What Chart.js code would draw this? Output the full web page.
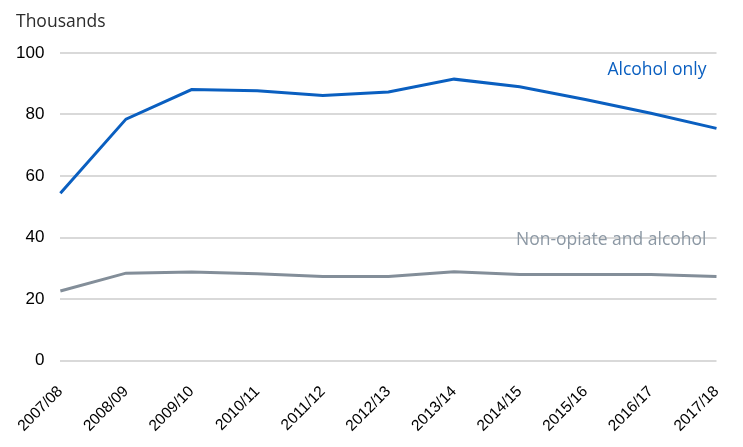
<!DOCTYPE html>
<html>
<head>
<meta charset="utf-8">
<script src="https://cdn.jsdelivr.net/npm/chart.js@4/dist/chart.umd.min.js"></script>
<style>
html,body{margin:0;padding:0;background:#fff;}
#wrap{width:743px;height:447px;position:relative;}
</style>
</head>
<body>
<div id="wrap"><canvas id="c" width="743" height="447"></canvas></div>
<script>
const categories = ["2007/08","2008/09","2009/10","2010/11","2011/12","2012/13","2013/14","2014/15","2015/16","2016/17","2017/18"];
const alcoholOnly = [54.4, 78.5, 88.1, 87.7, 86.2, 87.3, 91.5, 89.0, 84.9, 80.4, 75.5];
const nonOpiateAlcohol = [22.6, 28.4, 28.8, 28.2, 27.3, 27.3, 28.9, 28.0, 28.0, 28.0, 27.3];
const yTicks = [0, 20, 40, 60, 80, 100];
const unitLabel = "Thousands";
const seriesLabels = ["Alcohol only", "Non-opiate and alcohol"];

const BLUE = "#0a5fc0";
const GRAY = "#838e99";
const GRAY_TEXT = "#8c98a4";

const textPlugin = {
  id: 'texts',
  afterDraw(chart) {
    const ctx = chart.ctx;
    const x = chart.scales.x, y = chart.scales.y;
    ctx.save();
    ctx.font = '17.5px "Open Sans", "Noto Sans", sans-serif';
    ctx.fillStyle = '#2b2b2b';
    ctx.textAlign = 'left';
    ctx.textBaseline = 'alphabetic';
    ctx.fillText(unitLabel, 16, 27);
    const xr = x.getPixelForValue(categories.length - 1) - 10;
    ctx.textAlign = 'right';
    ctx.fillStyle = BLUE;
    ctx.fillText(seriesLabels[0], xr, y.getPixelForValue(92.8));
    ctx.fillStyle = GRAY_TEXT;
    ctx.fillText(seriesLabels[1], xr, y.getPixelForValue(37.6));
    ctx.restore();
  }
};

new Chart(document.getElementById('c'), {
  type: 'line',
  data: {
    labels: categories,
    datasets: [
      { label: seriesLabels[0], data: alcoholOnly, borderColor: BLUE, borderWidth: 3, pointRadius: 0, tension: 0, fill: false },
      { label: seriesLabels[1], data: nonOpiateAlcohol, borderColor: GRAY, borderWidth: 3, pointRadius: 0, tension: 0, fill: false }
    ]
  },
  options: {
    responsive: false,
    animation: false,
    layout: { padding: { top: 53, right: 26.5, bottom: 0, left: 0 } },
    plugins: { legend: { display: false }, tooltip: { enabled: false }, title: { display: false } },
    scales: {
      x: {
        offset: false,
        grid: { display: false, drawTicks: false },
        border: { display: false },
        afterFit(scale) { scale.height = 86.5; scale.paddingRight = 0; scale.paddingLeft = 0; },
        ticks: { color: '#000', font: { family: 'Liberation Sans, Arial, sans-serif', size: 15.5 }, minRotation: 45, maxRotation: 45, autoSkip: false, padding: 22 }
      },
      y: {
        min: 0, max: 100,
        afterBuildTicks(scale) { scale.ticks = yTicks.map(v => ({ value: v })); },
        grid: { color: '#d9d9d9', lineWidth: 2, drawTicks: false },
        border: { display: false },
        ticks: { color: '#000', font: { family: 'Liberation Sans, Arial, sans-serif', size: 17 }, padding: 16 }
      }
    }
  },
  plugins: [textPlugin]
});
</script>
</body>
</html>
